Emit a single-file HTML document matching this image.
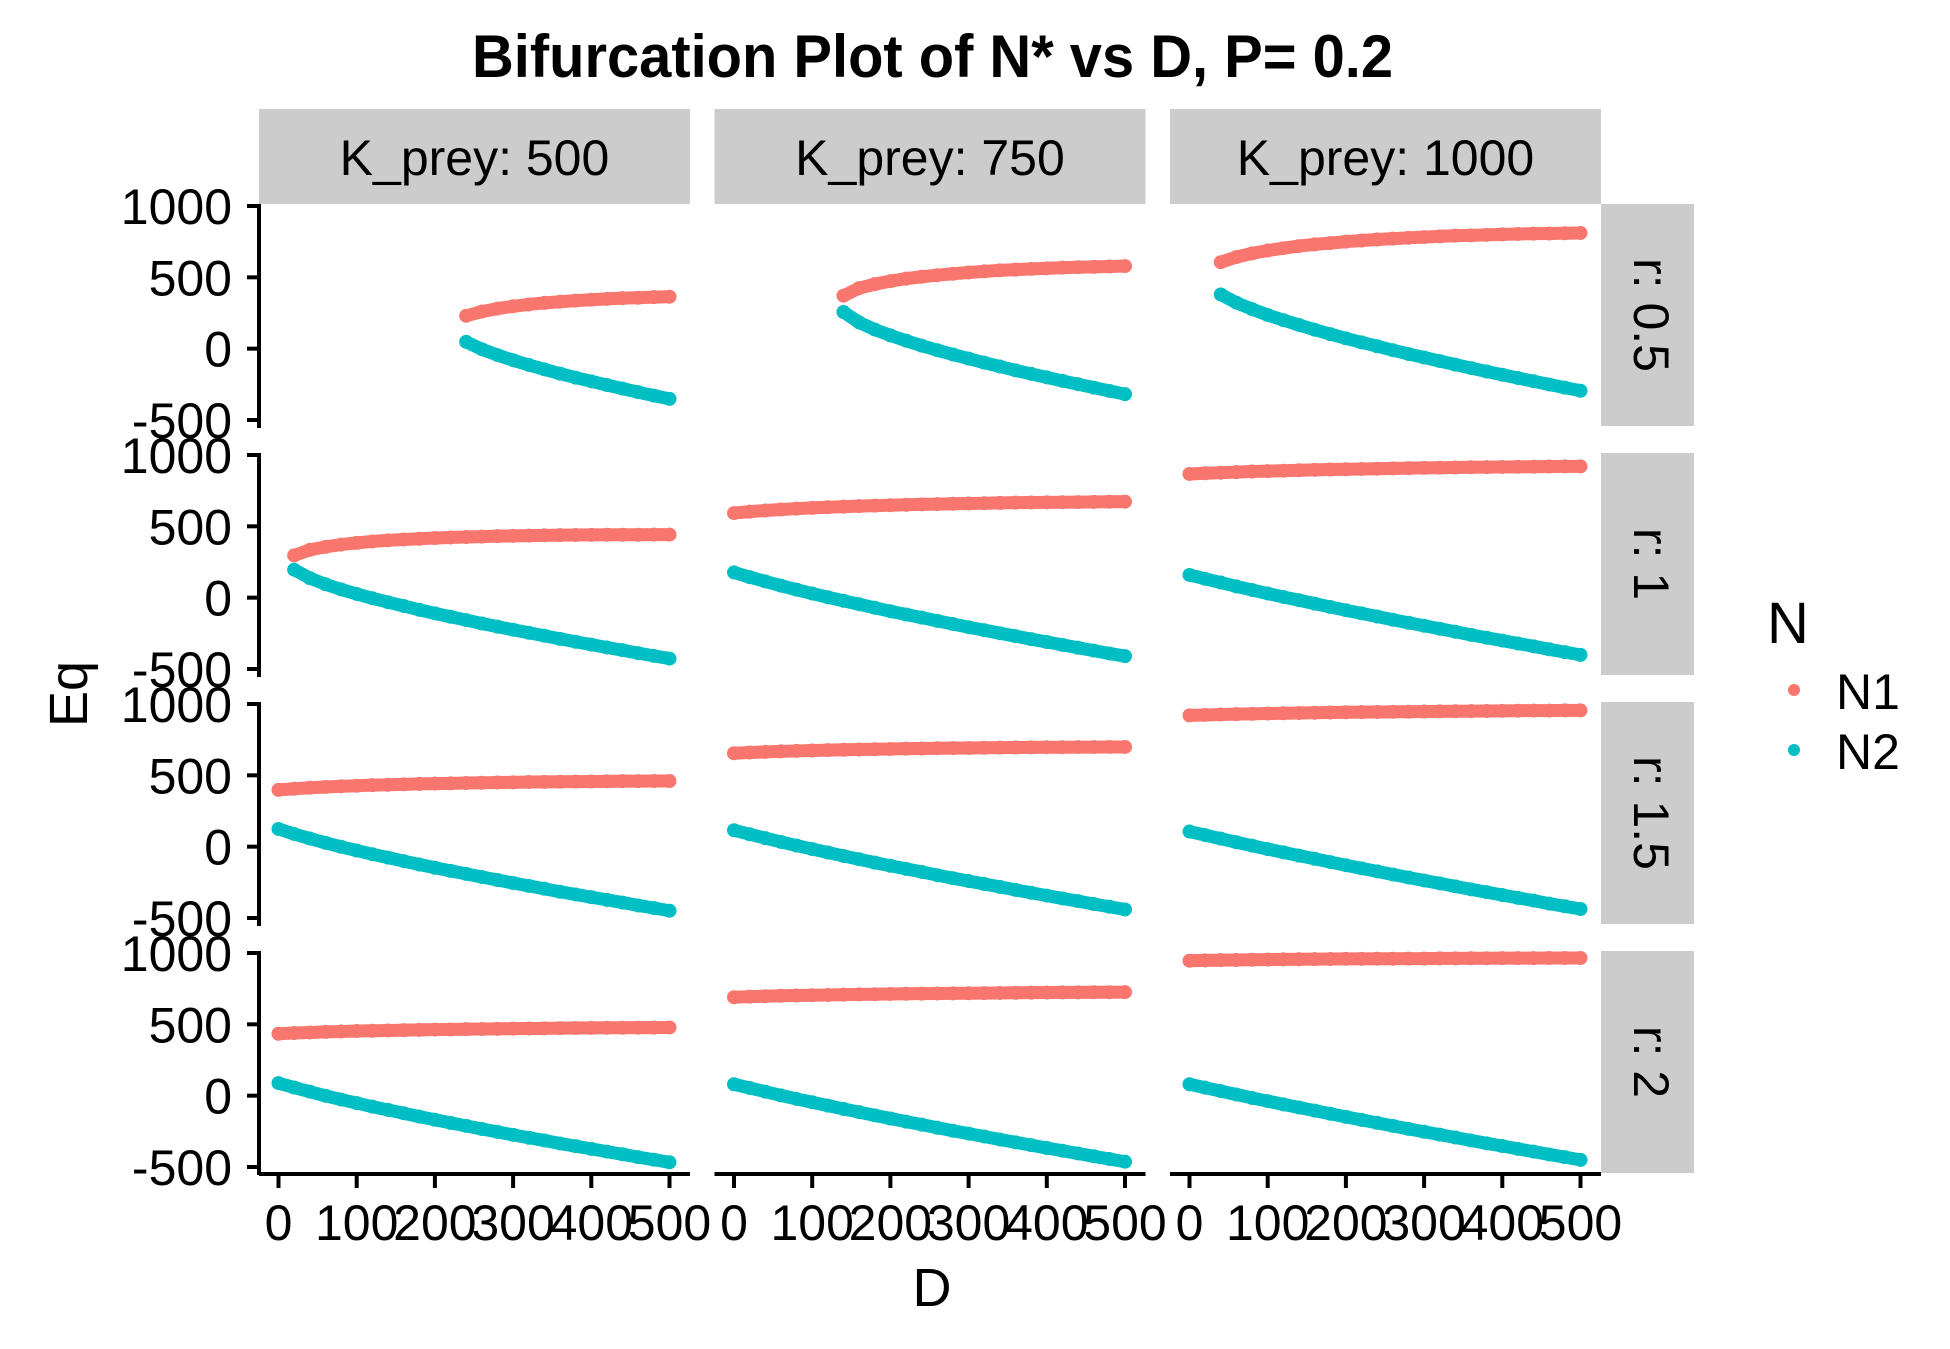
<!DOCTYPE html>
<html><head><meta charset="utf-8"><style>
html,body{margin:0;padding:0;background:#fff;}
svg{display:block;font-family:"Liberation Sans",Arial,sans-serif;}
</style></head><body>
<svg id="chart" width="1950" height="1349" viewBox="0 0 1950 1349" xmlns="http://www.w3.org/2000/svg">
<text x="472" y="77" font-size="60" font-weight="bold" textLength="921" lengthAdjust="spacingAndGlyphs">Bifurcation Plot of N* vs D, P= 0.2</text>
<g id="panels"></g>
<text x="932" y="1306" font-size="54" text-anchor="middle">D</text>
<text transform="translate(87,694) rotate(-90)" font-size="54" text-anchor="middle">Eq</text>
<g>
<text x="1767" y="643" font-size="58">N</text>
<circle cx="1794" cy="690" r="6" fill="#F8766D"></circle>
<text x="1836" y="709" font-size="50">N1</text>
<circle cx="1794" cy="750" r="6" fill="#00BFC4"></circle>
<text x="1836" y="769" font-size="50">N2</text>
</g>
</svg>
<script>
const Dvals = [0,20,40,60,80,100,120,140,160,180,200,220,240,260,280,300,320,340,360,380,400,420,440,460,480,500];
const colLabels = ["K_prey: 500","K_prey: 750","K_prey: 1000"];
const rowLabels = ["r: 0.5","r: 1","r: 1.5","r: 2"];
const yTicks = [1000,500,0,-500];
const xTicks = [0,100,200,300,400,500];
const _ = null;
// row r:0.5
const n1_r05_k500 = [_,_,_,_,_,_,_,_,_,_,_,_,230,260,281,297,310,321,329,337,343,349,354,357,361,364];
const n2_r05_k500 = [_,_,_,_,_,_,_,_,_,_,_,_,48,-4,-45,-81,-114,-145,-175,-203,-229,-255,-280,-305,-329,-352];
const n1_r05_k750 = [_,_,_,_,_,_,_,371,424,452,473,491,504,515,525,534,542,549,554,559,563,568,571,573,576,579];
const n2_r05_k750 = [_,_,_,_,_,_,_,257,184,134,93,56,21,-11,-41,-70,-98,-125,-152,-177,-201,-226,-249,-273,-296,-319];
const n1_r05_k1000 = [_,_,606,642,668,688,704,719,731,740,750,758,765,771,777,782,787,792,794,798,801,804,806,807,809,811];
const n2_r05_k1000 = [_,_,380,322,277,236,200,166,133,102,72,44,17,-11,-37,-62,-87,-112,-136,-160,-183,-206,-228,-251,-273,-295];
// row r:1
const n1_r1_k500 = [_,296,335,356,372,384,394,402,408,413,418,422,425,428,431,433,435,437,438,439,440,441,441,441,442,442];
const n2_r1_k500 = [_,196,137,94,58,26,-4,-32,-58,-85,-110,-134,-157,-181,-203,-225,-246,-267,-289,-309,-329,-349,-368,-389,-408,-427];
const n1_r1_k750 = [593,603,611,618,624,629,634,638,642,645,648,651,654,656,658,660,662,664,666,667,668,669,670,671,672,673];
const n2_r1_k750 = [177,144,114,84,56,29,3,-22,-46,-71,-95,-118,-140,-163,-185,-207,-228,-249,-270,-291,-311,-331,-351,-371,-391,-410];
const n1_r1_k1000 = [867,872,876,880,884,887,890,893,896,898,900,902,904,906,908,910,911,912,914,915,916,917,918,919,920,920];
const n2_r1_k1000 = [159,132,106,79,54,29,5,-18,-42,-65,-88,-110,-132,-155,-176,-197,-218,-239,-261,-281,-301,-321,-341,-362,-382,-401];
// row r:1.5
const n1_r15_k500 = [398,406,413,418,423,427,431,434,437,440,442,444,446,448,450,451,453,454,455,456,457,458,459,459,460,460];
const n2_r15_k500 = [124,89,57,27,-1,-27,-53,-77,-101,-125,-148,-170,-191,-213,-234,-255,-275,-295,-316,-335,-354,-373,-392,-412,-430,-449];
const n1_r15_k750 = [655,660,664,668,671,674,677,679,681,683,685,687,688,690,691,692,693,694,695,696,697,697,698,698,699,699];
const n2_r15_k750 = [115,87,60,33,8,-17,-41,-65,-88,-112,-134,-156,-177,-200,-221,-241,-262,-282,-303,-323,-343,-363,-382,-402,-421,-440];
const n1_r15_k1000 = [920,923,926,929,931,933,935,937,939,940,942,943,944,945,946,947,948,949,950,951,952,953,954,954,955,955];
const n2_r15_k1000 = [106,81,56,31,7,-17,-40,-63,-85,-108,-130,-152,-173,-195,-216,-237,-257,-278,-299,-319,-339,-359,-378,-399,-418,-437];
// row r:2
const n1_r2_k500 = [434,439,443,447,450,453,455,457,459,461,463,464,466,467,468,470,471,472,473,474,475,476,476,477,477,478];
const n2_r2_k500 = [88,57,28,-1,-27,-52,-77,-100,-123,-147,-169,-191,-212,-234,-254,-275,-295,-314,-335,-354,-373,-392,-411,-431,-449,-467];
const n1_r2_k750 = [690,694,697,700,702,704,706,708,710,711,713,714,715,716,717,718,719,720,721,722,723,724,724,725,725,726];
const n2_r2_k750 = [80,54,28,2,-23,-46,-70,-93,-115,-138,-160,-182,-203,-225,-246,-266,-286,-307,-327,-347,-367,-386,-405,-425,-444,-463];
const n1_r2_k1000 = [946,948,950,951,953,954,955,956,957,958,959,959,960,960,961,961,962,962,963,963,964,964,964,965,965,965];
const n2_r2_k1000 = [80,56,32,8,-16,-38,-61,-83,-105,-127,-149,-170,-191,-212,-233,-253,-273,-293,-314,-334,-353,-373,-392,-412,-431,-450];

const N1 = [[n1_r05_k500,n1_r05_k750,n1_r05_k1000],[n1_r1_k500,n1_r1_k750,n1_r1_k1000],[n1_r15_k500,n1_r15_k750,n1_r15_k1000],[n1_r2_k500,n1_r2_k750,n1_r2_k1000]];
const N2 = [[n2_r05_k500,n2_r05_k750,n2_r05_k1000],[n2_r1_k500,n2_r1_k750,n2_r1_k1000],[n2_r15_k500,n2_r15_k750,n2_r15_k1000],[n2_r2_k500,n2_r2_k750,n2_r2_k1000]];

const NS = "http://www.w3.org/2000/svg";
const g = document.getElementById('panels');
const colLeft = [259, 714.5, 1170], panelW = 431;
const rowTop = [204, 453, 702, 951], panelH = 222;
function xPx(c, v){ return colLeft[c] + 19.5 + v * 0.782; }
function yPx(r, v){ return rowTop[r] + 2 + (1000 - v) * (214 / 1500); }
function mk(tag, attrs){ const e = document.createElementNS(NS, tag); for (const k in attrs) e.setAttribute(k, attrs[k]); return e; }

colLabels.forEach((lab, c) => {
  const s = mk('rect', {x: colLeft[c], y: 109, width: panelW, height: 95, fill: '#CCCCCC'});
  
  
  g.appendChild(s);
  const t = mk('text', {x: colLeft[c] + panelW / 2, y: 175, 'font-size': 50, 'text-anchor': 'middle'});
  
  
  t.textContent = lab; g.appendChild(t);
});
rowLabels.forEach((lab, r) => {
  const s = mk('rect', {x: 1601, y: rowTop[r], width: 93, height: panelH, fill: '#CCCCCC'});
  
  
  g.appendChild(s);
  const cy = rowTop[r] + panelH / 2;
  const t = mk('text', {transform: `translate(1634,${cy}) rotate(90)`, 'font-size': 50, 'text-anchor': 'middle'});
  
  
  t.textContent = lab; g.appendChild(t);
});
for (let r = 0; r < 4; r++) {
  const ax = mk('line', {x1: 259, x2: 259, y1: rowTop[r], y2: rowTop[r] + panelH + 2, stroke: '#000', 'stroke-width': 4});
  
  
  g.appendChild(ax);
  yTicks.forEach(v => {
    const y = yPx(r, v);
    const tk = mk('line', {x1: 247, x2: 259, y1: y, y2: y, stroke: '#000', 'stroke-width': 4});
    
    
    g.appendChild(tk);
    const t = mk('text', {x: 232, y: y + 18, 'font-size': 50, 'text-anchor': 'end'});
    
    
    t.textContent = v; g.appendChild(t);
  });
}
for (let c = 0; c < 3; c++) {
  const ax = mk('line', {x1: colLeft[c], x2: colLeft[c] + panelW, y1: 1174, y2: 1174, stroke: '#000', 'stroke-width': 4});
  
  
  g.appendChild(ax);
  xTicks.forEach(v => {
    const x = xPx(c, v);
    const tk = mk('line', {x1: x, x2: x, y1: 1174, y2: 1188, stroke: '#000', 'stroke-width': 4});
    
    
    g.appendChild(tk);
    const t = mk('text', {x: x, y: 1240, 'font-size': 50, 'text-anchor': 'middle'});
    
    
    t.textContent = v; g.appendChild(t);
  });
}
function drawSeries(r, c, vals, color, name) {
  let pts = [];
  vals.forEach((v, i) => { if (v !== null) pts.push([xPx(c, Dvals[i]), yPx(r, v)]); });
  const pl = mk('polyline', {points: pts.map(p => p.join(',')).join(' '), fill: 'none', stroke: color, 'stroke-width': 13, 'stroke-linecap': 'round', 'stroke-linejoin': 'round'});
  
  
  g.appendChild(pl);
  pts.forEach(p => {
    const ci = mk('circle', {cx: p[0], cy: p[1], r: 7, fill: color});
    
    
    g.appendChild(ci);
  });
}
for (let r = 0; r < 4; r++) for (let c = 0; c < 3; c++) {
  drawSeries(r, c, N1[r][c], '#F8766D', 'n1');
  drawSeries(r, c, N2[r][c], '#00BFC4', 'n2');
}
</script>
</body></html>
